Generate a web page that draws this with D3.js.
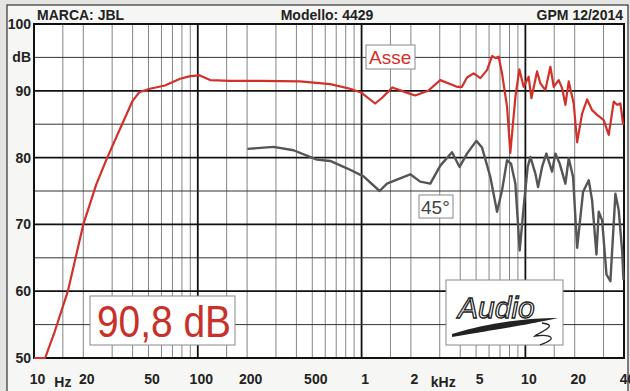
<!DOCTYPE html>
<html>
<head>
<meta charset="utf-8">
<script src="https://cdn.jsdelivr.net/npm/d3@7"></script>
<style>
  html, body { margin: 0; padding: 0; background: #e4e4e2; }
  svg { display: block; }
  text { font-family: "Liberation Sans", Arial, sans-serif; }
</style>
</head>
<body>
<div id="display"></div>
<script>
var width = 630,
    height = 391;

// header texts
var brand = "MARCA: JBL",
    model = "Modello: 4429",
    source = "GPM 12/2014";

// axes
var yTicks = [50, 60, 70, 80, 90, 100];
var xTicks = [10, 20, 50, 100, 200, 500, 1000, 2000, 5000, 10000, 20000, 40000];
var xTickLabels = ["10", "20", "50", "100", "200", "500", "1", "2", "5", "10", "20", "40"];

// on-axis response (Hz, dB)
var asseFreq = [10, 11.7, 13.4, 16.1, 20, 24, 28, 34.5, 40, 44, 51, 63, 78, 90, 103, 119, 157, 240, 420, 643, 851,
    1000, 1210, 1340, 1540, 1850, 2120, 2550, 3020, 3820, 4100, 4400, 4830, 5310, 5830, 6260, 6560, 6870, 7200,
    7730, 8090, 8690, 9190, 9760, 10470, 10880, 11790, 12350, 13240, 14210, 14890, 15970, 16750, 17550, 18390,
    19720, 20700, 22200, 23820, 25550, 27420, 30080, 32280, 34640, 36310, 38030, 39540];
var asseDb = [50, 50, 54, 60, 70, 76, 80, 85, 88.5, 89.8, 90.3, 90.8, 91.8, 92.2, 92.3, 91.6, 91.5, 91.5, 91.4, 91.0, 90.3,
    89.7, 88.1, 89, 90.5, 89.8, 89.3, 90, 91.6, 90.6, 90.6, 92, 92.6, 91.9, 93.1, 95.2, 94.9, 95.1, 92.6,
    87.6, 80.7, 89.1, 93.2, 90.6, 92.1, 88.9, 92.9, 91.1, 90.1, 93.6, 90.6, 91.6, 90.4, 87.9, 91.4,
    88.1, 82.3, 86.6, 88.7, 87.1, 86.4, 85.6, 83.4, 88.4, 87.9, 88.1, 84.9];

// 45 degree response (Hz, dB)
var offFreq = [201, 290, 384, 533, 643, 814, 1028, 1288, 1429, 1644, 1982, 2280, 2627, 3024, 3565, 3967, 4402,
    5017, 5437, 6110, 6714, 7203, 7727, 8170, 8688, 9230, 9760, 10330, 10730, 11510, 11950, 12650, 13430,
    14550, 15250, 16200, 17550, 18390, 19550, 20700, 22510, 24360, 25550, 27150, 28040, 29420, 31260, 33040,
    35460, 37150, 38970, 39700];
var offDb = [81.3, 81.6, 81.1, 79.7, 79.5, 78.4, 77.2, 75.0, 76.1, 76.7, 77.5, 76.4, 76.1, 78.8, 80.8, 78.6, 80.6,
    82.5, 81.5, 77.1, 71.9, 75.1, 79.6, 79.1, 76.1, 66.1, 72.6, 78.6, 80.1, 77.6, 75.6, 78.6, 80.6,
    77.9, 80.6, 79.1, 76.1, 79.9, 77.1, 66.5, 74.9, 76.6, 73.6, 65.5, 71.9, 70.6, 62.5, 61.5,
    74.6, 72.1, 66, 61.7];

var sensitivity = "90,8 dB";

var svg = d3.select("#display")
    .append("svg")
    .attr("width", width)
    .attr("height", height);

// paper
svg.append("rect")
    .attr("x", 7).attr("y", 5)
    .attr("width", 621).attr("height", 400)
    .attr("fill", "#f6f6f4")
    .attr("stroke", "#333")
    .attr("stroke-width", 1.2);

var x = d3.scaleLog().domain([10, 40000]).range([34, 624]);
var y = d3.scaleLinear().domain([50, 100]).range([358, 24]);

svg.append("rect")
    .attr("x", x(10)).attr("y", y(100))
    .attr("width", x(40000) - x(10)).attr("height", y(50) - y(100))
    .attr("fill", "#fff");

// vertical grid: 1.5, 2..9 per decade thin, decades thick
var minorF = [];
[10, 100, 1000, 10000].forEach(function (d) {
    [1.5, 2, 3, 4, 5, 6, 7, 8, 9].forEach(function (m) {
        if (d * m < 40000) minorF.push(d * m);
    });
});
svg.selectAll(".vminor")
    .data(minorF)
    .enter().append("line")
    .attr("x1", d => x(d)).attr("x2", d => x(d))
    .attr("y1", y(100)).attr("y2", y(50))
    .attr("stroke", "#777")
    .attr("stroke-width", 0.9);

svg.selectAll(".vmajor")
    .data([100, 1000, 10000])
    .enter().append("line")
    .attr("x1", d => x(d)).attr("x2", d => x(d))
    .attr("y1", y(100)).attr("y2", y(50))
    .attr("stroke", "#111")
    .attr("stroke-width", 1.8);

// horizontal grid
svg.selectAll(".hminor")
    .data([55, 65, 75, 85, 95])
    .enter().append("line")
    .attr("x1", x(10)).attr("x2", x(40000))
    .attr("y1", d => y(d)).attr("y2", d => y(d))
    .attr("stroke", "#333")
    .attr("stroke-width", 1);

svg.selectAll(".hmajor")
    .data([60, 70, 80, 90])
    .enter().append("line")
    .attr("x1", x(10)).attr("x2", x(40000))
    .attr("y1", d => y(d)).attr("y2", d => y(d))
    .attr("stroke", "#111")
    .attr("stroke-width", 1.8);

// plot frame
svg.append("rect")
    .attr("x", x(10)).attr("y", y(100))
    .attr("width", x(40000) - x(10)).attr("height", y(50) - y(100))
    .attr("fill", "none")
    .attr("stroke", "#111")
    .attr("stroke-width", 2);

// header
svg.append("text").attr("x", 37).attr("y", 20).text(brand)
    .attr("font-size", 14).attr("font-weight", "bold").attr("fill", "#222");
svg.append("text").attr("x", 327).attr("y", 20).text(model)
    .attr("text-anchor", "middle")
    .attr("font-size", 14).attr("font-weight", "bold").attr("fill", "#222");
svg.append("text").attr("x", 623).attr("y", 20).text(source)
    .attr("text-anchor", "end")
    .attr("font-size", 14).attr("font-weight", "bold").attr("fill", "#222");

// y axis labels
var yAxis = d3.axisLeft(y).tickValues(yTicks).tickSize(0).tickPadding(3);
var gy = svg.append("g").attr("transform", "translate(" + x(10) + ",0)").call(yAxis);
gy.select(".domain").remove();
gy.selectAll("text")
    .attr("font-family", "Liberation Sans, Arial, sans-serif")
    .attr("font-size", 14).attr("font-weight", "bold").attr("fill", "#222");
svg.append("text").attr("x", 31).attr("y", y(95)).attr("dy", "0.35em")
    .attr("text-anchor", "end").text("dB")
    .attr("font-size", 14).attr("font-weight", "bold").attr("fill", "#222");

// x axis labels
var xAxis = d3.axisBottom(x).tickValues(xTicks)
    .tickFormat((d, i) => xTickLabels[i]).tickSize(0).tickPadding(16);
var gx = svg.append("g").attr("transform", "translate(3," + y(50) + ")").call(xAxis);
gx.select(".domain").remove();
gx.selectAll("text")
    .attr("font-family", "Liberation Sans, Arial, sans-serif")
    .attr("font-size", 14).attr("font-weight", "bold").attr("fill", "#222");
svg.append("text").attr("x", x(15)).attr("y", 387).text("Hz")
    .attr("text-anchor", "middle")
    .attr("font-size", 14).attr("font-weight", "bold").attr("fill", "#222");
svg.append("text").attr("x", x(3150)).attr("y", 387).text("kHz")
    .attr("text-anchor", "middle")
    .attr("font-size", 14).attr("font-weight", "bold").attr("fill", "#222");

// curves
var line = d3.line()
    .x(d => x(d[0]))
    .y(d => y(d[1]));

svg.append("path")
    .datum(d3.zip(offFreq, offDb))
    .attr("d", line)
    .attr("fill", "none")
    .attr("stroke", "#555")
    .attr("stroke-width", 2.4)
    .attr("stroke-linejoin", "round");

svg.append("path")
    .datum(d3.zip(asseFreq, asseDb))
    .attr("d", line)
    .attr("fill", "none")
    .attr("stroke", "#d3302a")
    .attr("stroke-width", 2.2)
    .attr("stroke-linejoin", "round");

// labels on curves
function boxLabel(bx, by, bw, bh, txt, size, color, tx, ty) {
    svg.append("rect")
        .attr("x", bx).attr("y", by).attr("width", bw).attr("height", bh)
        .attr("fill", "#fff").attr("stroke", "#888").attr("stroke-width", 1);
    return svg.append("text").attr("x", tx).attr("y", ty).text(txt)
        .attr("font-size", size).attr("fill", color);
}
boxLabel(366, 45, 49, 24, "Asse", 19, "#d3302a", 369, 64);
boxLabel(419, 195, 34, 23, "45°", 19, "#444", 421, 214);
boxLabel(90, 296, 145, 49, sensitivity, 44, "#c8302a", 97, 337)
    .attr("textLength", 134)
    .attr("lengthAdjust", "spacingAndGlyphs");

// logo
svg.append("rect")
    .attr("x", 446).attr("y", 280).attr("width", 117).attr("height", 65)
    .attr("fill", "#fff").attr("stroke", "#888").attr("stroke-width", 1);
svg.append("text")
    .attr("x", 458).attr("y", 318)
    .text("Audio")
    .attr("font-family", "DejaVu Serif, serif")
    .attr("font-style", "italic")
    .attr("font-size", 30)
    .attr("fill", "#fff")
    .attr("stroke", "#222")
    .attr("stroke-width", 1.3);
svg.append("path")
    .attr("d", "M452,334 C490,322 530,318 558,318 C540,322 520,326 452,337 Z")
    .attr("fill", "#222");
svg.append("path")
    .attr("d", "M542,323 C560,325 540,332 535,336 C550,334 560,338 540,345")
    .attr("fill", "none").attr("stroke", "#222").attr("stroke-width", 1.3);
</script>
</body>
</html>
